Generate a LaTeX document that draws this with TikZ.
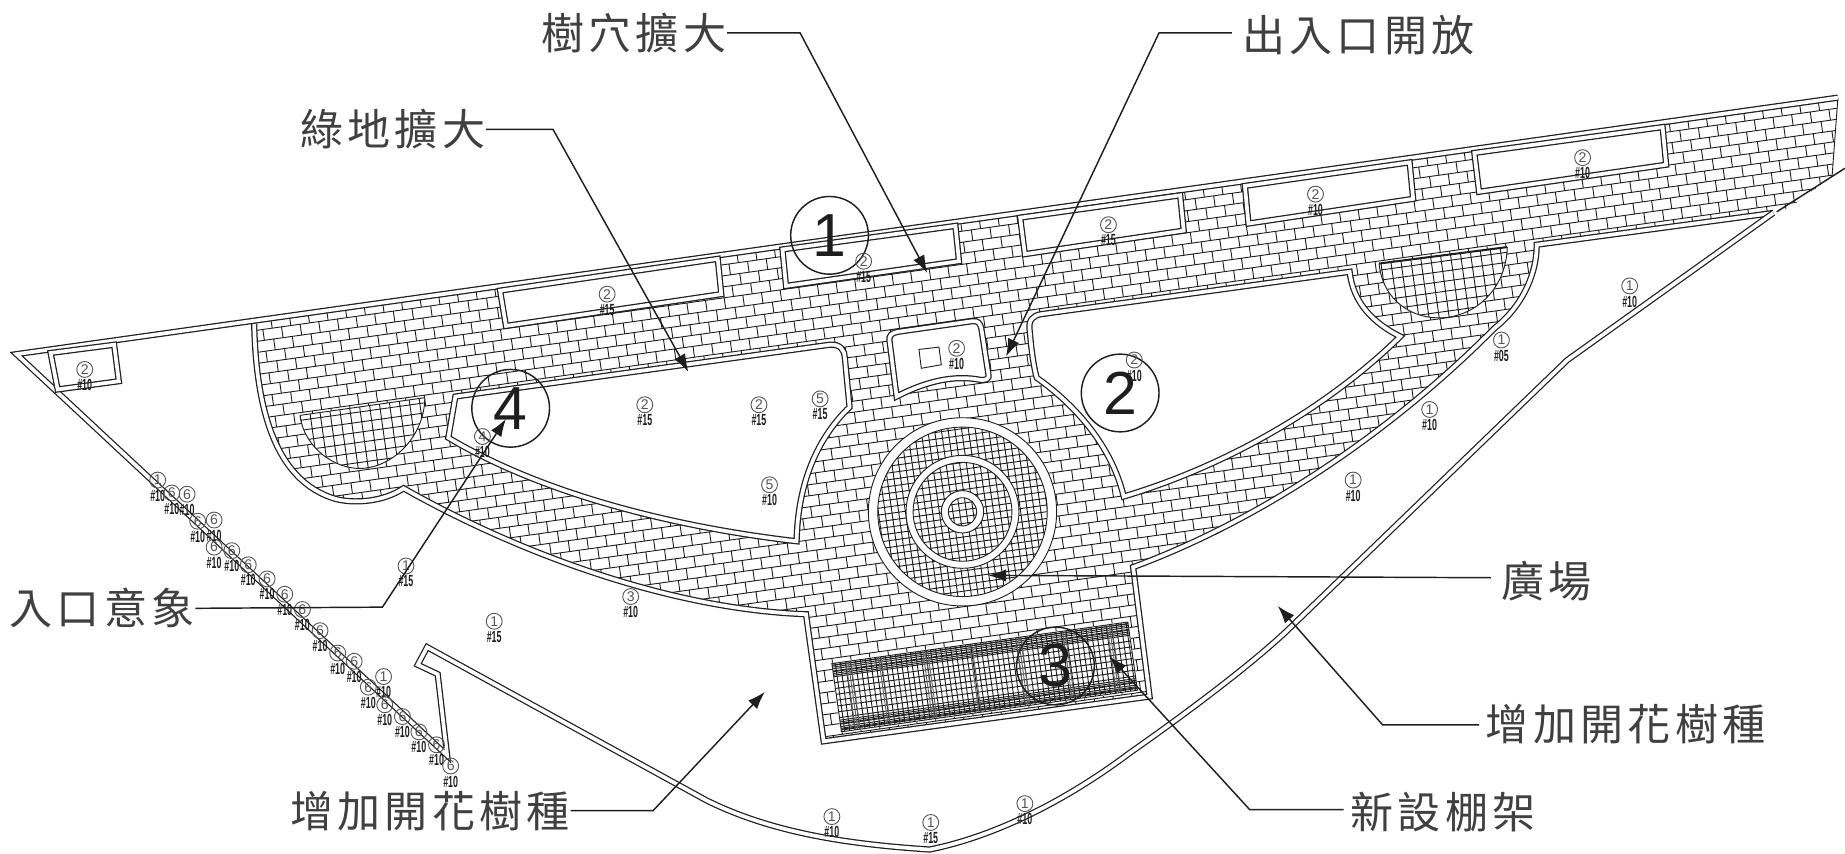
\documentclass[tikz,border=0pt]{standalone}
\usepackage{fontspec}
\usepackage{tikz}
\usetikzlibrary{positioning}
\usetikzlibrary{arrows.meta}
\newfontfamily\cjk[LetterSpace=10]{Noto Sans CJK TC}
\newfontfamily\lbl{Liberation Sans}
\definecolor{ink}{RGB}{30,30,30}

\begin{document}
\begin{tikzpicture}[x=0.01cm, y=-0.01cm, node distance=0.02cm, >={Latex[length=1.5mm,width=1.05mm]},
ink, line join=miter,
wall/.style={draw=ink, line width=0.3pt, double=white, double distance=0.9pt},
brickline/.style={ink, line width=0.22pt},
hatchline/.style={ink, line width=0.22pt},
callout/.style={inner sep=0pt, text=ink!85, font=\cjk\fontsize{10.4}{10.4}\selectfont},
leader/.style={ink, line width=0.35pt},
bigmark/.style={circle, draw=ink, line width=0.35pt, minimum size=6.6mm, inner sep=0pt, font=\lbl\fontsize{14.7}{15}\selectfont},
treemark/.style={circle, draw=ink!75, line width=0.22pt, minimum size=1.35mm, inner sep=0pt, text=ink!75, font=\lbl\fontsize{3.4}{3.4}\selectfont},
treesize/.style={inner sep=0pt, font=\lbl\bfseries\fontsize{3.9}{3.9}\selectfont}]
\useasboundingbox (0,0) rectangle (1568,725);

% paving bricks
\begin{scope}
\clip (217,271) -- (1562,83) -- (1557,150) -- (1520,177) -- (1507,181) -- (1306,208)
 .. controls (1306,235) and (1292,262) .. (1270,279)
 .. controls (1200,350) and (1090,435) .. (963,482)
 -- (977,592) -- (700,630) -- (685,522)
 .. controls (570,518) and (440,470) .. (343,415)
 .. controls (325,427) and (300,428) .. (285,424)
 .. controls (245,412) and (218,370) .. (216,275) -- cycle;
\begin{scope}[rotate around={8:(0,300)}]
\foreach \r in {0,...,46} {
  \pgfmathsetmacro\ry{302+\r*9.3}
  \pgfmathsetmacro\brickshift{mod(\r,2)*8}
  \draw[brickline] (200,\ry) -- (1600,\ry)
    foreach \c in {0,...,87} {({200+\c*16+\brickshift},\ry) -- ++(0,9.3)};
}
\end{scope}
\end{scope}

% paved outline
\draw[wall] (1507,181) -- (1306,208)
 .. controls (1306,235) and (1292,262) .. (1270,279)
 .. controls (1200,350) and (1090,435) .. (963,482)
 -- (977,592) -- (700,630) -- (685,522)
 .. controls (570,518) and (440,470) .. (343,415)
 .. controls (325,427) and (300,428) .. (285,424)
 .. controls (245,412) and (218,370) .. (216,275);
\draw[brickline] (1562,83) -- (1557,150);
\draw[leader] (1568,143) -- (1510,180);

% site outline
\draw[wall] (1562,83) -- (14,301) -- (380,642) -- (372,573) -- (355,565) -- (363,550)
 -- (600,680) .. controls (660,710) and (730,718) .. (790,722)
 .. controls (840,712) and (900,685) .. (960,640)
 .. controls (1010,605) and (1070,560) .. (1100,530)
 -- (1332,306) -- (1507,181);

% lawns
\draw[wall, fill=white] (387,337) -- (705,293) .. controls (714,292) and (718,298) .. (718,304)
 -- (722,346) .. controls (695,372) and (678,410) .. (677,460)
 .. controls (590,450) and (470,425) .. (381,372) -- cycle;
\draw[wall, fill=white] (875,280) .. controls (874,272) and (878,268) .. (885,267)
 -- (1147,231) .. controls (1150,258) and (1168,275) .. (1190,286)
 .. controls (1130,345) and (1045,395) .. (955,422)
 .. controls (945,380) and (915,345) .. (881,321)
 .. controls (877,305) and (876,290) .. (875,280) -- cycle;

% planters
\draw[wall, fill=white] (43,300) -- (97,293) -- (101,324) -- (49,331) -- cycle;
\draw[wall, fill=white] (425,247) -- (610,220) -- (613,250) -- (430,277) -- cycle;
\draw[wall, fill=white] (665,212) -- (812,192) -- (815,222) -- (668,243) -- cycle;
\draw[wall, fill=white] (867,185) -- (1003,166) -- (1006,196) -- (871,216) -- cycle;
\draw[wall, fill=white] (1058,158) -- (1198,138) -- (1201,169) -- (1061,190) -- cycle;
\draw[wall, fill=white] (1253,130) -- (1413,108) -- (1416,140) -- (1257,163) -- cycle;
\draw[wall, fill=white] (756,290) .. controls (755,285) and (758,283) .. (763,282)
 -- (826,273) .. controls (831,272) and (833,275) .. (834,279)
 -- (840,318) .. controls (841,322) and (838,323) .. (834,323)
 .. controls (810,318) and (785,325) .. (762,337) -- cycle;
\draw[hatchline] (781,297) -- (798,295) -- (800,310) -- (783,313) -- cycle;

% half round grids
\begin{scope}
\clip (1172,224) .. controls (1175,255) and (1200,272) .. (1227,270)
 .. controls (1255,268) and (1280,245) .. (1281,210) -- cycle;
\draw[white, fill=white] (1160,200) rectangle (1290,280);
\begin{scope}[rotate around={8:(1172,224)}]
\draw[hatchline, xstep=0.85mm, ystep=0.85mm] (1150,190) grid (1300,300);
\end{scope}
\end{scope}
\draw[brickline] (1172,224) .. controls (1175,255) and (1200,272) .. (1227,270)
 .. controls (1255,268) and (1280,245) .. (1281,210);
\draw[ink, line width=0.5pt] (1172,224) -- (1281,210);
\begin{scope}
\clip (255,353) .. controls (258,380) and (285,400) .. (309,398)
 .. controls (335,396) and (361,370) .. (361,338) -- cycle;
\draw[white, fill=white] (240,330) rectangle (370,410);
\begin{scope}[rotate around={8:(255,353)}]
\draw[hatchline, xstep=0.85mm, ystep=0.85mm] (230,310) grid (390,420);
\end{scope}
\end{scope}
\draw[brickline] (255,353) .. controls (258,380) and (285,400) .. (309,398)
 .. controls (335,396) and (361,370) .. (361,338) -- (255,353);

% plaza rings
\coordinate (plaza) at (818,435);
\foreach \ro/\ri in {80/72,48/42,18/12} {
  \draw[brickline, fill=white] (plaza) circle [radius=\ro];
  \begin{scope}
  \clip (plaza) circle [radius=\ri];
  \begin{scope}[rotate around={8:(818,435)}]
  \draw[hatchline, xstep=0.57mm, ystep=0.57mm] (730,345) grid (910,525);
  \end{scope}
  \end{scope}
  \draw[brickline] (plaza) circle [radius=\ri];
}

% trellis
\begin{scope}[rotate around={8:(707,564)}]
\draw[white, fill=white] (707,564) rectangle (961,622.5);
\begin{scope}
\clip (707,564) rectangle (961,622.5);
\draw[hatchline, xstep=0.43mm, ystep=0.5mm] (700,560) grid (965,625);
\foreach \dy in {1.5,3,4.5,7,8.5,10,48.5,50,52,54,55.5,57} {
  \draw[hatchline] (707,564+\dy) -- (961,564+\dy);
}
\foreach \dx in {12,14,16,40,42,78,80,82,118,120,158,160,162,198,200,236,238,240} {
  \draw[hatchline, ink!70] (707+\dx,564) -- (707+\dx,622.5);
}
\end{scope}
\draw[brickline] (707,564) rectangle (961,622.5);
\end{scope}

% numbered circles
\node [bigmark] (zone1) at (705,200) {1};
\node [bigmark] (zone2) at (952,334) {2};
\node [bigmark] (zone3) at (897,566) {3};
\node [bigmark] (zone4) at (434,347) {4};

% tree marks
\foreach \px/\py/\dig/\sz [count=\k] in {734/222/2/15, 516/250/2/15, 942/191/2/15, 1118/165/2/10, 1345/134/2/10, 72/314/2/10,
 813/296/2/10, 964/306/2/10, 548/344/2/15, 645/344/2/15, 697/339/5/15, 654/412/5/10, 410/371/4/10, 345/481/1/15,
 420/528/1/15, 536/507/3/10, 1150/408/1/10, 1215/348/1/10, 1276/289/1/05, 1385/243/1/10, 707/694/1/10, 791/699/1/15,
 871/683/1/10, 326/575/1/10, 134/408/1/10} {
  \node [treemark] (tree\k) at (\px,\py) {\dig};
  \node [treesize, below = 0.005cm of tree\k] (size\k) {\scalebox{.55}[1]{\#\sz}};
}
% hedge along the edge
\foreach \px/\py [count=\k] in {146/419, 159/420, 168/443, 182/442, 182/465, 197/468, 211/480, 227/492, 242/505, 257/518,
 272/536, 287/555, 301/562, 313/584, 327/599, 342/609, 356/622, 371/633, 383/651} {
  \node [treemark] (hedge\k) at (\px,\py) {6};
  \node [treesize, below = 0.005cm of hedge\k] (hedgesize\k) {\scalebox{.55}[1]{\#10}};
}

% labels and leaders
\coordinate (holeAt) at (620,28);
\node [callout, left = of holeAt] (holeText) {樹穴擴大};
\coordinate (holeKnee) at (680,28);
\coordinate (holeTip) at (788,232);
\draw [leader, ->] (holeText.east) -- (holeKnee) -- (holeTip);

\coordinate (gateAt) at (1053,30);
\node [callout, right = of gateAt] (gateText) {出入口開放};
\coordinate (gateKnee) at (985,28);
\coordinate (gateTip) at (855,303);
\draw [leader, ->] (gateText.west) ++(-8,-2) -- (gateKnee) -- (gateTip);

\coordinate (greenAt) at (415,110);
\node [callout, left = of greenAt] (greenText) {綠地擴大};
\coordinate (greenKnee) at (470,110);
\coordinate (greenTip) at (585,316);
\draw [leader, ->] (greenText.east) -- (greenKnee) -- (greenTip);

\coordinate (entryAt) at (168,517);
\node [callout, left = of entryAt] (entryText) {入口意象};
\coordinate (entryKnee) at (325,516);
\coordinate (entryTip) at (430,356);
\draw [leader, ->] (entryText.east) -- (entryKnee) -- (entryTip);

\coordinate (plazaAt) at (1273,494);
\node [callout, right = of plazaAt] (plazaText) {廣場};
\coordinate (plazaTip) at (840,489);
\draw [leader, ->] (plazaText.west) ++(-8,-3) -- (plazaTip);

\coordinate (flowerRAt) at (1260,615);
\node [callout, right = of flowerRAt] (flowerRText) {增加開花樹種};
\coordinate (flowerRKnee) at (1175,616);
\coordinate (flowerRTip) at (1086,515);
\draw [leader, ->] (flowerRText.west) ++(-5,1) -- (flowerRKnee) -- (flowerRTip);

\coordinate (flowerLAt) at (487,689);
\node [callout, left = of flowerLAt] (flowerLText) {增加開花樹種};
\coordinate (flowerLKnee) at (555,689);
\coordinate (flowerLTip) at (650,588);
\draw [leader, ->] (flowerLText.east) -- (flowerLKnee) -- (flowerLTip);

\coordinate (frameAt) at (1145,690);
\node [callout, right = of frameAt] (frameText) {新設棚架};
\coordinate (frameKnee) at (1062,688);
\coordinate (frameTip) at (943,558);
\draw [leader, ->] (frameText.west) ++(-5,-2) -- (frameKnee) -- (frameTip);

\end{tikzpicture}
\end{document}
